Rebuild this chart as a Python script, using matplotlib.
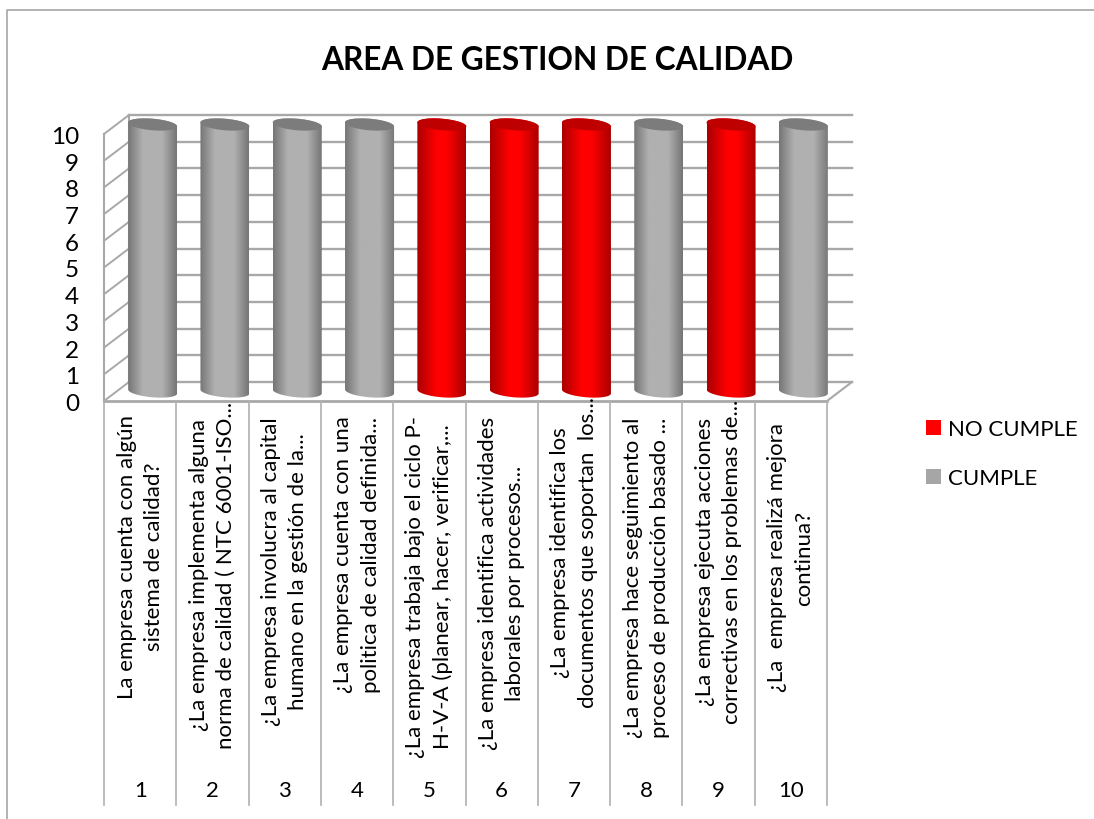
import numpy as np
import matplotlib
matplotlib.use('Agg')
import matplotlib.pyplot as plt
from matplotlib.lines import Line2D
from matplotlib.patches import Patch, PathPatch, Polygon
from matplotlib.path import Path

plt.rcParams['font.family'] = ['Lato', 'DejaVu Sans']

title = 'AREA DE GESTION DE CALIDAD'
numbers = ['1', '2', '3', '4', '5', '6', '7', '8', '9', '10']
questions = [
    'La empresa cuenta con algún\nsistema de calidad?',
    '¿La empresa implementa alguna\nnorma de calidad ( NTC 6001-ISO...',
    '¿La empresa involucra al capital\nhumano en la gestión de la...',
    '¿La empresa cuenta con una\npolitica de calidad definida...',
    '¿La empresa trabaja bajo el ciclo P-\nH-V-A (planear, hacer, verificar,...',
    '¿La empresa identifica actividades\nlaborales por procesos...',
    '¿La empresa identifica los\ndocumentos que soportan  los...',
    '¿La empresa hace seguimiento al\nproceso de producción basado ...',
    '¿La empresa ejecuta acciones\ncorrectivas en los problemas de...',
    '¿La  empresa realizá mejora\ncontinua?',
]
no_cumple = [0, 0, 0, 0, 10, 10, 10, 0, 10, 0]
cumple = [10, 10, 10, 10, 0, 0, 0, 10, 0, 10]
yticks = list(range(0, 11))

# middle of each label block, pixels from the top
label_mid = [557, 575, 572, 555, 587, 583, 553, 578, 562, 558]

W, H = 1094, 820
fig = plt.figure(figsize=(W / 100, H / 100), dpi=100)
ax = fig.add_axes([104 / W, 1 - 402 / H, 723 / W, 267 / H])
ax.set_xlim(0, 10)
ax.set_ylim(0, 10)
ax.axis('off')

px_x = 10 / 723
px_y = 10 / 267
dx = 25 * px_x
dy = 19 * px_y
grid_c = '#a8a8a8'


def to_y(py):
    # figure pixel row to value axis
    return (402 - py) * px_y


# outer frame
fig.add_artist(Line2D([6.5 / W, 6.5 / W, 1], [0, 1 - 10.5 / H, 1 - 10.5 / H], color='#a6a6a6', lw=1.2))

# walls and floor
for v in yticks:
    ax.plot([dx, 10 + dx], [v + dy, v + dy], color=grid_c, lw=1.7, clip_on=False, zorder=1)
    ax.plot([0, dx], [v, v + dy], color=grid_c, lw=1.4, clip_on=False, zorder=1)
ax.plot([dx, dx], [dy, 10 + dy], color=grid_c, lw=1.5, clip_on=False, zorder=1)
ax.plot([0, 0], [0, 10], color=grid_c, lw=1.5, clip_on=False, zorder=1)
ax.plot([10, 10 + dx], [0, dy], color=grid_c, lw=1.5, clip_on=False, zorder=1)
ax.plot([0, 10], [0, 0], color=grid_c, lw=2.0, clip_on=False, zorder=1)


def gradient(edge, mid, flat=0.0):
    stops = np.array([edge, mid, mid, edge], dtype=float) / 255
    t = np.linspace(0, 1, 64)
    pos = [0, 0.3 + flat, 0.7 - flat, 1]
    return np.stack([np.interp(t, pos, stops[:, k]) for k in range(3)], axis=1)[None, :, :]


def cylinder(i, value, edge, mid, lid, flat=0.0):
    cx = i + 0.5 + dx / 2
    half = 24.5 * px_x
    ry = 5.8 * px_y
    tilt = 2 * px_y
    base = dy / 2
    t = np.linspace(np.pi, 2 * np.pi, 40)
    low_x = cx + half * np.cos(t)
    low_y = base + ry * np.sin(t) - tilt * np.cos(t)
    t2 = np.linspace(0, np.pi, 40)
    up_x = cx + half * np.cos(t2)
    up_y = base + value + ry * np.sin(t2) - tilt * np.cos(t2)
    verts = np.vstack([np.c_[low_x, low_y], np.c_[up_x, up_y], [[low_x[0], low_y[0]]]])
    clip = PathPatch(Path(verts), transform=ax.transData, fc='none', ec='none')
    ax.add_patch(clip)
    im = ax.imshow(gradient(edge, mid, flat), extent=[cx - half, cx + half, -1, 12], aspect='auto',
                   interpolation='bilinear', zorder=3)
    im.set_clip_box(fig.bbox)
    im.set_clip_path(clip)
    t3 = np.linspace(0, 2 * np.pi, 80)
    top = np.c_[cx + half * np.cos(t3), base + value + ry * np.sin(t3) - tilt * np.cos(t3)]
    ax.add_patch(Polygon(top, closed=True, fc=lid, ec='none', zorder=4, clip_on=False))


for i in range(len(numbers)):
    if cumple[i]:
        cylinder(i, cumple[i], (118, 118, 118), (176, 176, 176), '#7c7c7c')
    if no_cumple[i]:
        cylinder(i, no_cumple[i], (170, 0, 0), (255, 0, 0), '#bf0000', flat=0.1)
ax.set_xlim(0, 10)
ax.set_ylim(0, 10)

# value axis labels
for v in yticks:
    ax.text(-25 * px_x, v - 2.5 * px_y, str(v), ha='right', va='center', fontsize=17.5, color='black', clip_on=False)

# category table under the plot
for k in range(11):
    ax.plot([k, k], [0, to_y(806)], color='#b0b0b0', lw=1.2, clip_on=False, zorder=1)
for i, (num, q) in enumerate(zip(numbers, questions)):
    ax.text(i + 0.5, to_y(791), num, ha='center', va='center', fontsize=16, color='black')
    ax.text(i + 0.5, to_y(label_mid[i]), q, rotation=90, ha='center', va='center', multialignment='center',
            fontsize=16, linespacing=1.45, color='black')

fig.text(557 / W, 1 - 60 / H, title, ha='center', va='center', fontsize=22.8, fontweight='bold', color='black')

handles = [Patch(fc='#ff0000', ec='none', label='NO CUMPLE'), Patch(fc='#a6a6a6', ec='none', label='CUMPLE')]
fig.legend(handles=handles, loc='upper left', bbox_to_anchor=(926 / W, 1 - 420 / H), frameon=False, fontsize=16,
           borderpad=0, borderaxespad=0, handlelength=0.67, handleheight=0.67, handletextpad=0.31, labelspacing=1.3)

plt.savefig('out.png', dpi=100)
